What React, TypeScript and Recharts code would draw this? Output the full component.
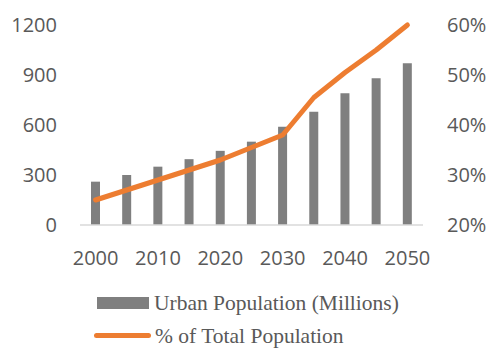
import React from "react";
import { ComposedChart, Bar, Line, XAxis, YAxis, Legend } from "recharts";

const years = ["2000", "2005", "2010", "2015", "2020", "2025", "2030", "2035", "2040", "2045", "2050"];
const urbanPopulation = [260, 300, 350, 395, 445, 500, 590, 680, 790, 880, 970];
const shareOfTotal = [0.25, 0.27, 0.29, 0.31, 0.33, 0.355, 0.38, 0.455, 0.505, 0.55, 0.6];
const leftTicks = [0, 300, 600, 900, 1200];
const rightTicks = [0.2, 0.3, 0.4, 0.5, 0.6];

const BAR_COLOR = "#7f7f7f";
const LINE_COLOR = "#ed7d31";
const TEXT_COLOR = "#595959";

const data = years.map((year, i) => ({
  year,
  urban: urbanPopulation[i],
  share: shareOfTotal[i],
}));

const tickFont = { fontSize: 20, fill: TEXT_COLOR, fontFamily: "'Open Sans', sans-serif" };

function LegendBox() {
  const textStyle: React.CSSProperties = {
    fontFamily: "'Liberation Serif', serif",
    fontSize: 21.5,
    color: TEXT_COLOR,
    marginLeft: 5,
    lineHeight: "22px",
    whiteSpace: "nowrap",
  };
  return (
    <div>
      <div style={{ display: "flex", alignItems: "center", height: 33 }}>
        <div style={{ width: 52, height: 12, background: BAR_COLOR, marginLeft: 3 }} />
        <span style={textStyle}>Urban Population (Millions)</span>
      </div>
      <div style={{ display: "flex", alignItems: "center", height: 33 }}>
        <div style={{ width: 57, height: 5, borderRadius: 3, background: LINE_COLOR }} />
        <span style={{ ...textStyle, marginLeft: 4 }}>% of Total Population</span>
      </div>
    </div>
  );
}

export default function App() {
  return (
    <div style={{ position: "absolute", left: 0, top: 0, width: 486, height: 348, background: "#fff" }}>
      <ComposedChart width={486} height={348} data={data} margin={{ top: 25, right: 0, bottom: 83, left: 0 }}>
        <XAxis
          dataKey="year"
          interval={1}
          tickLine={false}
          axisLine={{ stroke: "#d9d9d9", strokeWidth: 1.5 }}
          tick={tickFont}
          tickMargin={20}
          height={40}
        />
        <YAxis
          yAxisId="left"
          domain={[0, 1200]}
          ticks={leftTicks}
          axisLine={false}
          tickLine={false}
          tick={tickFont}
          tickMargin={17}
          width={80}
        />
        <YAxis
          yAxisId="right"
          orientation="right"
          domain={[0.2, 0.6]}
          ticks={rightTicks}
          tickFormatter={(v: number) => `${Math.round(v * 100)}%`}
          axisLine={false}
          tickLine={false}
          tick={tickFont}
          tickMargin={18}
          width={63}
        />
        <Bar yAxisId="left" dataKey="urban" name="Urban Population (Millions)" fill={BAR_COLOR} barSize={9} isAnimationActive={false} />
        <Line
          yAxisId="right"
          dataKey="share"
          name="% of Total Population"
          stroke={LINE_COLOR}
          strokeWidth={5}
          strokeLinecap="round"
          strokeLinejoin="round"
          dot={false}
          activeDot={false}
          isAnimationActive={false}
        />
        <Legend
          verticalAlign="middle"
          content={() => <LegendBox />}
          wrapperStyle={{ top: 286, left: 94, width: 390, height: 66 }}
        />
      </ComposedChart>
    </div>
  );
}
